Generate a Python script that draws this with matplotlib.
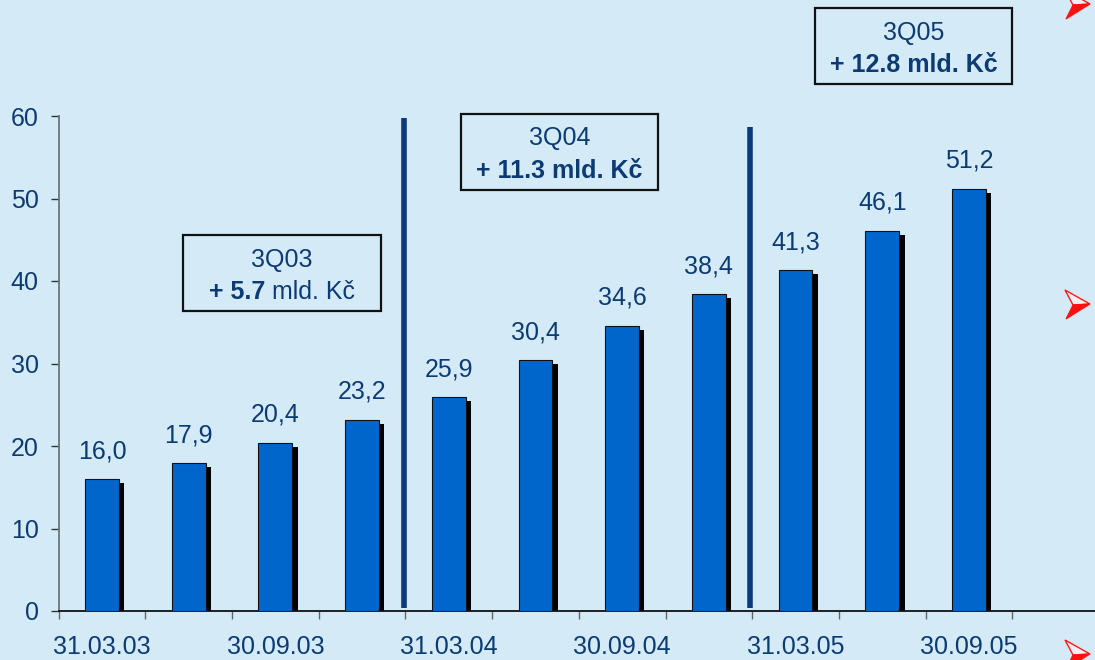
import matplotlib
matplotlib.use('Agg')
from matplotlib import pyplot as plt
from matplotlib.patches import Rectangle, Polygon
from matplotlib.transforms import offset_copy

plt.rcParams['font.family'] = ['Liberation Sans', 'DejaVu Sans']

# data
values = [16.0, 17.9, 20.4, 23.2, 25.9, 30.4, 34.6, 38.4, 41.3, 46.1, 51.2]
value_labels = ['16,0', '17,9', '20,4', '23,2', '25,9', '30,4', '34,6', '38,4', '41,3', '46,1', '51,2']
date_labels = ['31.03.03', '30.09.03', '31.03.04', '30.09.04', '31.03.05', '30.09.05']
date_pos = [0, 2, 4, 6, 8, 10]
divider_x = [3.48, 7.475]
divider_top = [59.8, 58.7]
box_titles = ['3Q03', '3Q04', '3Q05']
box_amounts = ['+ 5.7', '+ 11.3', '+ 12.8']
box_units = ['mld. Kč', 'mld. Kč', 'mld. Kč']
box_unit_bold = [False, True, True]
box_centers = [(2.077, 40.97), (5.279, 55.64), (9.362, 68.45)]

bg = '#d4eaf6'
blue = '#0066cc'
txt = '#0c3b73'
navy = '#0b3a7b'
fs = 18

fig = plt.figure(figsize=(10.95, 6.6), dpi=100)
fig.patch.set_facecolor(bg)
ax = fig.add_axes([58.6 / 1095, 1 - 611 / 660, 12 * 86.7 / 1095, 495 / 660])
ax.set_facecolor(bg)
ax.set_xlim(-0.5, 11.5)
ax.set_ylim(0, 60)

x = list(range(len(values)))
w = 0.39
# shadow bars first, then blue bars
ax.bar([i + 0.062 for i in x], [v - 0.5 for v in values], width=w, color='black', zorder=2)
ax.bar(x, values, width=w, color=blue, edgecolor='#111111', linewidth=0.8, zorder=3)

for i, v in enumerate(values):
    ax.annotate(value_labels[i], (i, v), xytext=(0, 15), textcoords='offset points',
                ha='center', va='baseline', fontsize=fs, color=txt, annotation_clip=False)

for dx, top in zip(divider_x, divider_top):
    ax.plot([dx, dx], [0.35, top], color=navy, lw=4, solid_capstyle='butt', zorder=4, clip_on=False)

# boxes
bw, bh = 2.275, 9.25
for (cx, cy), title, amt, unit, ub in zip(box_centers, box_titles, box_amounts, box_units, box_unit_bold):
    ax.add_patch(Rectangle((cx - bw / 2, cy - bh / 2), bw, bh, facecolor='none',
                           edgecolor='#111111', lw=1.6, clip_on=False, zorder=5))
    ax.text(cx, cy + 0.785, title, ha='center', va='baseline', fontsize=fs, color=txt, clip_on=False)
    if ub:
        ax.text(cx, cy - 3.13, amt + ' ' + unit, ha='center', va='baseline', fontsize=fs,
                color=txt, fontweight='bold', clip_on=False)
    else:
        tb = ax.text(cx, cy - 3.13, amt, ha='left', va='baseline', fontsize=fs, color=txt,
                     fontweight='bold', clip_on=False)
        tn = ax.text(cx, cy - 3.13, unit, ha='left', va='baseline', fontsize=fs, color=txt, clip_on=False)
        r = fig.canvas.get_renderer()
        wb = tb.get_window_extent(r).width
        wn = tn.get_window_extent(r).width
        gap = 7
        total = wb + gap + wn
        tb.set_transform(offset_copy(ax.transData, fig=fig, x=-total / 2, y=0, units='dots'))
        tn.set_transform(offset_copy(ax.transData, fig=fig, x=-total / 2 + wb + gap, y=0, units='dots'))

# axes styling
for s in ['top', 'right']:
    ax.spines[s].set_visible(False)
ax.spines['left'].set_color('#6e747a')
ax.spines['left'].set_linewidth(1.3)
ax.spines['bottom'].set_color('#111111')
ax.spines['bottom'].set_linewidth(1.3)

ax.set_yticks(range(0, 61, 10))
ax.tick_params(axis='y', length=6, width=1, color='#333333', pad=8.4, labelsize=fs, labelcolor=txt)
ax.set_xticks([i - 0.5 for i in range(12)])
ax.set_xticklabels([])
ax.tick_params(axis='x', which='major', length=6, width=1, color='#666666')
ax.set_xticks(date_pos, minor=True)
ax.set_xticklabels(date_labels, minor=True)
ax.tick_params(axis='x', which='minor', length=0, pad=17.5, labelsize=fs, labelcolor=txt)

# red bullet arrows on the right edge (slide decoration)
for tip_y in [656, 356, 6]:
    tx = 1090
    a = (tx - 25, tip_y + 14)
    n = (tx - 17, tip_y - 1)
    b = (tx - 24, tip_y - 15)
    t = (tx, tip_y)
    up = Polygon([[p[0] / 100, p[1] / 100] for p in (a, t, n)], closed=True,
                 facecolor='#f2eef2', edgecolor='#ff1a1a', lw=1, transform=fig.dpi_scale_trans)
    lo = Polygon([[p[0] / 100, p[1] / 100] for p in (n, t, b)], closed=True,
                 facecolor='#ff1010', edgecolor='#ff1010', lw=0.8, transform=fig.dpi_scale_trans)
    fig.add_artist(up)
    fig.add_artist(lo)

fig.savefig('out.png', dpi=100, facecolor=bg)
